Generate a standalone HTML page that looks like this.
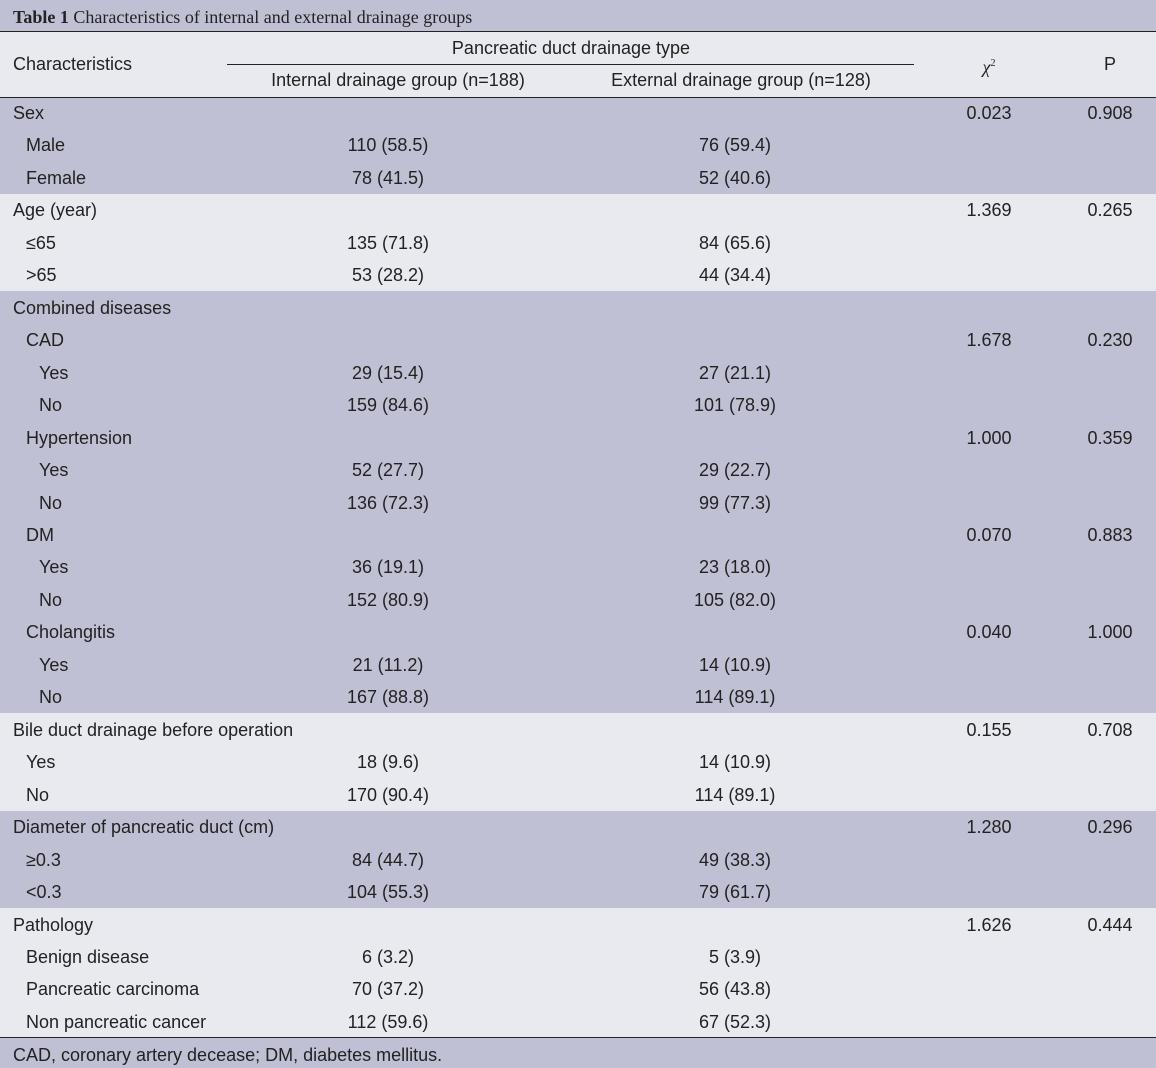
<!DOCTYPE html>
<html><head><meta charset="utf-8"><style>
body{margin:0;width:1156px;height:1068px;position:relative;overflow:hidden;background:#e9eaf0;font-family:"Liberation Sans",Arial,sans-serif;font-size:18px;color:#222;}
.band{position:absolute;left:0;width:1156px;}
.p{background:#bfc0d4}.l{background:#e9eaf0}
.hl{position:absolute;left:0;width:1156px;height:1px;background:#222}
.t{position:absolute;white-space:nowrap;line-height:20px;transform:translateY(-10px)}
.c{transform:translate(-50%,-10px)}
</style></head><body>
<div class="band p" style="top:0;height:31px"></div>
<div class="t" style="left:13px;top:17px;font-family:'Liberation Serif',serif;font-size:18px"><b>Table 1</b> Characteristics of internal and external drainage groups</div>
<div class="hl" style="top:31px"></div>
<div class="t" style="left:13px;top:64px">Characteristics</div>
<div class="t c" style="left:571px;top:48px">Pancreatic duct drainage type</div>
<div style="position:absolute;left:227px;width:687px;top:64px;height:1px;background:#222"></div>
<div class="t c" style="left:398px;top:80px">Internal drainage group (n=188)</div>
<div class="t c" style="left:741px;top:80px">External drainage group (n=128)</div>
<div class="t c" style="left:989px;top:64px;font-family:'Liberation Serif',serif;font-style:italic">χ<sup style="font-size:10px;font-style:normal">2</sup></div>
<div class="t c" style="left:1110px;top:64px">P</div>
<div class="hl" style="top:97px"></div>
<div id="rows"></div>
<div class="band p" style="top:1038px;height:30px"></div>
<div class="hl" style="top:1037px"></div>
<div class="t" style="left:13px;top:1055px">CAD, coronary artery decease; DM, diabetes mellitus.</div>
<script>
const labels=["Sex","Male","Female","Age (year)","≤65",">65","Combined diseases","CAD","Yes","No","Hypertension","Yes","No","DM","Yes","No","Cholangitis","Yes","No","Bile duct drainage before operation","Yes","No","Diameter of pancreatic duct (cm)","≥0.3","<0.3","Pathology","Benign disease","Pancreatic carcinoma","Non pancreatic cancer"];
const indents=[0,1,1,0,1,1,0,1,2,2,1,2,2,1,2,2,1,2,2,0,1,1,0,1,1,0,1,1,1];
const internal=["","110 (58.5)","78 (41.5)","","135 (71.8)","53 (28.2)","","","29 (15.4)","159 (84.6)","","52 (27.7)","136 (72.3)","","36 (19.1)","152 (80.9)","","21 (11.2)","167 (88.8)","","18 (9.6)","170 (90.4)","","84 (44.7)","104 (55.3)","","6 (3.2)","70 (37.2)","112 (59.6)"];
const external=["","76 (59.4)","52 (40.6)","","84 (65.6)","44 (34.4)","","","27 (21.1)","101 (78.9)","","29 (22.7)","99 (77.3)","","23 (18.0)","105 (82.0)","","14 (10.9)","114 (89.1)","","14 (10.9)","114 (89.1)","","49 (38.3)","79 (61.7)","","5 (3.9)","56 (43.8)","67 (52.3)"];
const chi2=["0.023","","","1.369","","","","1.678","","","1.000","","","0.070","","","0.040","","","0.155","","","1.280","","","1.626","","",""];
const pvals=["0.908","","","0.265","","","","0.230","","","0.359","","","0.883","","","1.000","","","0.708","","","0.296","","","0.444","","",""];
const groups=[[0,3,"p"],[3,6,"l"],[6,19,"p"],[19,22,"l"],[22,25,"p"],[25,29,"l"]];
const root=document.getElementById('rows');
const y0=113,dy=32.46;
groups.forEach(g=>{
  const b=document.createElement('div');
  b.className='band '+g[2];
  b.style.top=(g[0]===0?98:Math.round(y0+dy*g[0]-16.5))+'px';
  b.style.height=(g[1]===29?1037:Math.round(y0+dy*g[1]-16.5))-(g[0]===0?98:Math.round(y0+dy*g[0]-16.5))+'px';
  
  
  root.appendChild(b);
});
function cell(txt,x,y,center,name){
  if(!txt)return;
  const d=document.createElement('div');
  d.className='t'+(center?' c':'');
  d.style.left=x+'px';d.style.top=y+'px';d.textContent=txt;
  
  
  root.appendChild(d);
}
labels.forEach((l,i)=>{
  const y=y0+dy*i;
  cell(l,13+13*indents[i],y,false,'row-label');
  cell(internal[i],388,y,true,'internal-value');
  cell(external[i],735,y,true,'external-value');
  cell(chi2[i],989,y,true,'chi2-value');
  cell(pvals[i],1110,y,true,'p-value');
});
</script>
</body></html>
